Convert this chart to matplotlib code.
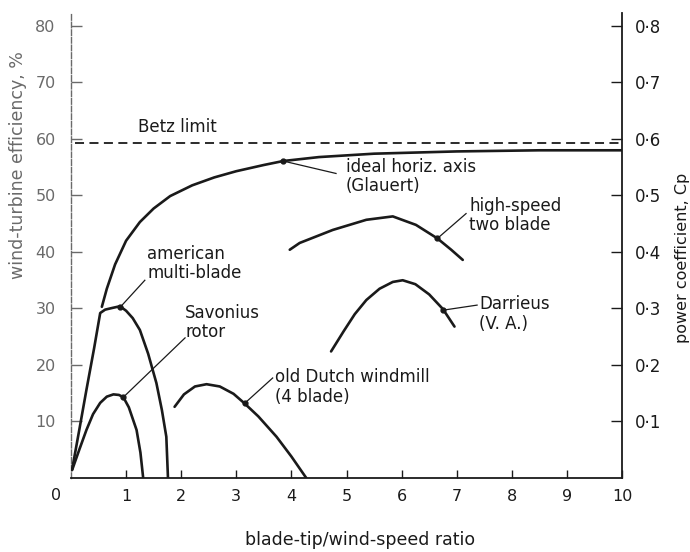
"""
Wind-turbine efficiency vs blade-tip/wind-speed ratio, redrawn from a
scanned textbook figure. Left axis in %, right axis as Cp.
"""

import matplotlib
matplotlib.use("Agg")
import matplotlib.pyplot as plt

# ---- data --------------------------------------------------------------
BETZ = 59.3

ideal_x = [0.56, 0.65, 0.80, 1.00, 1.25, 1.50, 1.80, 2.20, 2.60, 3.00,
           3.50, 3.85, 4.50, 5.50, 7.00, 8.50, 10.0]
ideal_y = [30.3, 33.5, 37.8, 42.0, 45.3, 47.7, 49.9, 51.8, 53.2, 54.3,
           55.4, 56.1, 56.8, 57.4, 57.8, 58.0, 58.0]

multi_x = [0.02, 0.15, 0.28, 0.42, 0.53, 0.62, 0.75, 0.89, 1.00, 1.12,
           1.25, 1.40, 1.55, 1.65, 1.73, 1.76]
multi_y = [1.5, 8.5, 15.6, 23.0, 29.2, 29.8, 30.1, 30.4, 29.6, 28.3,
           26.2, 22.0, 16.8, 12.0, 7.3, 0.0]

savon_x = [0.02, 0.15, 0.28, 0.40, 0.53, 0.65, 0.77, 0.87, 0.95, 1.05,
           1.19, 1.26, 1.31]
savon_y = [1.4, 5.0, 8.5, 11.3, 13.3, 14.4, 14.8, 14.7, 14.3, 12.5,
           8.5, 4.5, 0.0]

dutch_x = [1.88, 2.05, 2.25, 2.46, 2.70, 2.95, 3.15, 3.40, 3.73, 4.00, 4.27]
dutch_y = [12.6, 14.8, 16.2, 16.6, 16.2, 14.9, 13.2, 10.9, 7.3, 3.8, 0.0]

hs2_x = [3.97, 4.15, 4.75, 5.36, 5.84, 6.26, 6.65, 6.90, 7.11]
hs2_y = [40.4, 41.6, 43.9, 45.7, 46.3, 44.8, 42.4, 40.4, 38.6]

darr_x = [4.72, 4.95, 5.15, 5.36, 5.60, 5.84, 6.02, 6.25, 6.50, 6.75, 6.96]
darr_y = [22.4, 26.0, 29.0, 31.5, 33.5, 34.7, 35.0, 34.3, 32.5, 29.9, 26.8]

x_ticks = [1, 2, 3, 4, 5, 6, 7, 8, 9, 10]
eff_ticks = [10, 20, 30, 40, 50, 60, 70, 80]
cp_ticks = [0.1, 0.2, 0.3, 0.4, 0.5, 0.6, 0.7, 0.8]
cp_labels = ["0·1", "0·2", "0·3", "0·4", "0·5", "0·6", "0·7", "0·8"]

# label: (dot on curve, end of leader, text anchor, text)
notes = [
    ((3.85, 56.1), (4.81, 53.9), (4.99, 53.4), "ideal horiz. axis\n(Glauert)"),
    ((6.65, 42.4), (7.17, 46.8), (7.23, 46.5), "high-speed\ntwo blade"),
    ((6.75, 29.7), (7.37, 30.6), (7.41, 29.0), "Darrieus\n(V. A.)"),
    ((0.89, 30.2), (1.34, 35.0), (1.38, 38.0), "american\nmulti-blade"),
    ((0.95, 14.3), (2.07, 24.8), (2.07, 27.5), "Savonius\nrotor"),
    ((3.15, 13.2), (3.66, 17.7), (3.70, 16.1), "old Dutch windmill\n(4 blade)"),
]

INK = "#1a1a1a"
FADED = "#6a6a6a"
FS = 12

plt.rcParams["font.family"] = "DejaVu Sans"

fig = plt.figure(figsize=(6.9, 5.52), dpi=100, facecolor="white")
ax = fig.add_axes([71 / 690, 74 / 552, 551 / 690, 465 / 552])
ax.set_xlim(0, 10)
ax.set_ylim(0, 82.3)

for s in ("top", "right"):
    ax.spines[s].set_visible(False)
ax.spines["bottom"].set_linewidth(1.3)
ax.spines["bottom"].set_color(INK)
ax.spines["left"].set_linewidth(1.0)
ax.spines["left"].set_color(FADED)
ax.spines["left"].set_linestyle((0, (4, 1.5)))

ax.set_xticks(x_ticks)
ax.set_xticklabels([str(t) for t in x_ticks])
ax.set_xticks([5], minor=True)   # the 5 tick is drawn taller on the scan
ax.tick_params(axis="x", which="major", direction="in", length=6,
               width=1.0, pad=8, labelsize=11.5, colors=INK)
ax.tick_params(axis="x", which="minor", direction="in", length=12,
               width=1.0, labelbottom=False, colors=INK)
ax.set_yticks(eff_ticks)
ax.set_yticklabels([str(t) for t in eff_ticks])
ax.tick_params(axis="y", direction="in", length=8, width=1.0, pad=11,
               labelsize=11.5, colors=FADED)
fig.text(56 / 690, 1 - 496 / 552, "0", fontsize=11.5, color=INK,
         ha="center", va="center")

# right axis: power coefficient
ax2 = ax.twinx()
ax2.set_ylim(0, 0.823)
for s in ("top", "left", "bottom"):
    ax2.spines[s].set_visible(False)
ax2.spines["right"].set_linewidth(1.3)
ax2.spines["right"].set_color(INK)
ax2.set_yticks(cp_ticks)
ax2.set_yticklabels(cp_labels)
ax2.tick_params(axis="y", direction="in", length=8, width=1.0, pad=9,
                labelsize=12, colors=INK)

# Betz limit
ax.plot([0.07, 10], [BETZ, BETZ], color=INK, lw=1.3,
        linestyle=(0, (5, 3)), zorder=3)
ax.text(1.21, 62.1, "Betz limit", fontsize=FS, color=INK,
        ha="left", va="center")

for xs, ys in [(ideal_x, ideal_y), (multi_x, multi_y), (savon_x, savon_y),
               (dutch_x, dutch_y), (hs2_x, hs2_y), (darr_x, darr_y)]:
    ax.plot(xs, ys, color=INK, lw=1.9, solid_capstyle="round",
            solid_joinstyle="round", zorder=4)

for (dx, dy), (lx, ly), (tx, ty), txt in notes:
    ax.plot([dx, lx], [dy, ly], color=INK, lw=0.9, zorder=4)
    ax.plot(dx, dy, "o", color=INK, ms=3.5, zorder=5)
    ax.text(tx, ty, txt, fontsize=FS, color=INK, ha="left", va="center",
            linespacing=1.1)

fig.text(360 / 690, 1 - 540 / 552, "blade-tip/wind-speed ratio",
         fontsize=12.5, color=INK, ha="center", va="center")
fig.text(18 / 690, 1 - 165 / 552, "wind-turbine efficiency, %",
         fontsize=12.5, color=FADED, ha="center", va="center", rotation=90)
fig.text(683 / 690, 1 - 258 / 552, "power coefficient, Cp",
         fontsize=11.5, color=INK, ha="center", va="center", rotation=90)

fig.savefig("out.png", dpi=100, facecolor="white")
